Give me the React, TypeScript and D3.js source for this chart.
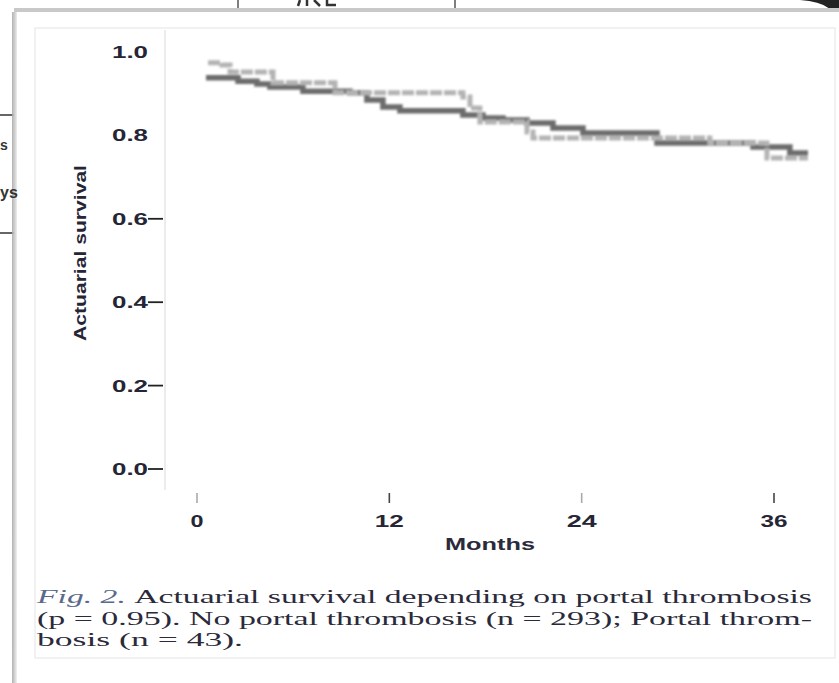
import React from "react";
import * as d3 from "d3";

// Step-curve data (months, actuarial survival)
const noPortalMonths = [0.56, 2.56, 3.74, 4.55, 6.61, 9.54, 10.6, 11.6, 12.66, 16.59, 17.84, 19.09, 20.59, 22.21, 24.08, 28.7, 34.69, 36.99, 38.12];
const noPortalSurv = [0.938, 0.93, 0.923, 0.916, 0.906, 0.902, 0.885, 0.868, 0.859, 0.849, 0.842, 0.837, 0.83, 0.818, 0.806, 0.782, 0.772, 0.758, 0.758];

const portalMonths = [0.69, 1.56, 2.06, 4.74, 8.61, 16.59, 17.03, 17.65, 20.59, 20.96, 32.0, 35.56, 38.12];
const portalSurv = [0.974, 0.969, 0.952, 0.926, 0.902, 0.892, 0.866, 0.832, 0.808, 0.794, 0.782, 0.746, 0.746];

const yTicks = [1.0, 0.8, 0.6, 0.4, 0.2, 0.0];
const yTickLabels = ["1.0", "0.8", "0.6", "0.4", "0.2", "0.0"];
const yTickMarked = [false, false, true, true, true, true];
const xTicks = [0, 12, 24, 36];
const xTickLabels = ["0", "12", "24", "36"];
const xLabelWidths = [13, 29, 30, 27];

const captionLines = [
  "Actuarial survival depending on portal thrombosis",
  "(p = 0.95).  No portal thrombosis (n = 293);  Portal throm-",
  "bosis (n = 43).",
];

export default function App() {
  const x = d3.scaleLinear().domain([0, 36]).range([197, 774]);
  const y = d3.scaleLinear().domain([0, 1]).range([469, 52]);

  const line = d3
    .line<[number, number]>()
    .x((d) => x(d[0]))
    .y((d) => y(d[1]))
    .curve(d3.curveStepAfter);

  const darkPts = noPortalMonths.map((m, i) => [m, noPortalSurv[i]] as [number, number]);
  const lightPts = portalMonths.map((m, i) => [m, portalSurv[i]] as [number, number]);

  const axisFont = "'Liberation Sans', Arial, sans-serif";
  const serif = "'Liberation Serif', 'Times New Roman', serif";

  return (
    <svg
      width={839}
      height={683}
      style={{ position: "absolute", left: 0, top: 0, background: "#fff" }}
    >
      <defs>
        <filter id="soft" x="-5%" y="-20%" width="110%" height="140%">
          <feGaussianBlur stdDeviation="0.8" />
        </filter>
        <linearGradient id="shadowL" x1="0" x2="1" y1="0" y2="0">
          <stop offset="0" stopColor="#a8a8a8" />
          <stop offset="1" stopColor="#f0f0f0" />
        </linearGradient>
        <linearGradient id="shadowT" x1="0" x2="0" y1="0" y2="1">
          <stop offset="0" stopColor="#c8c8c8" />
          <stop offset="1" stopColor="#ffffff" />
        </linearGradient>
      </defs>

      {/* background fragments */}
      <rect x={0} y={0} width={839} height={683} fill="#ffffff" />
      <line x1={238} y1={0} x2={238} y2={8} stroke="#555" strokeWidth={1.5} />
      <line x1={455} y1={0} x2={455} y2={8} stroke="#555" strokeWidth={1.5} />
      <g stroke="#333" strokeWidth={2.5}>
        <line x1={300} y1={0} x2={298} y2={6} />
        <line x1={307} y1={0} x2={307} y2={6} />
        <line x1={314} y1={0} x2={320} y2={6} />
        <line x1={326} y1={5} x2={336} y2={5} />
        <line x1={327} y1={0} x2={327} y2={6} />
      </g>
      <path d="M800,0 Q839,2 839,30 L839,0 Z" fill="#222" />
      <line x1={0} y1={115} x2={14} y2={115} stroke="#666" strokeWidth={2} />
      <line x1={0} y1={233} x2={14} y2={233} stroke="#666" strokeWidth={2} />

      {/* card */}
      <rect x={14} y={8} width={830} height={680} fill="url(#shadowT)" />
      <rect x={12} y={12} width={5} height={680} fill="url(#shadowL)" opacity={0.9} />
      <rect x={17} y={12} width={830} height={680} fill="#ffffff" />
      <text x={0} y={150} fontFamily={axisFont} fontSize={14} fontWeight="bold" fill="#333">s</text>
      <text x={0} y={198} fontFamily={axisFont} fontSize={16} fontWeight="bold" fill="#333">ys</text>

      {/* inner panel */}
      <rect x={35} y={28} width={800} height={630} fill="none" stroke="#e4e4e4" strokeWidth={1} />
      <line x1={165} y1={30} x2={165} y2={490} stroke="#ececec" strokeWidth={2} />

      {/* y axis */}
      {yTicks.map((t, i) => (
        <g key={"y" + i}>
          <text
            x={148}
            y={y(t) + 6}
            textAnchor="end"
            fontFamily={axisFont}
            fontSize={17}
            fontWeight="bold"
            fill="#252535"
            textLength={36}
            lengthAdjust="spacingAndGlyphs"
          >
            {yTickLabels[i]}
          </text>
          {yTickMarked[i] && (
            <line x1={148} y1={y(t)} x2={163} y2={y(t)} stroke="#222" strokeWidth={1.8} />
          )}
        </g>
      ))}
      <text
        transform="translate(86,253) rotate(-90)"
        textAnchor="middle"
        fontFamily={axisFont}
        fontSize={17}
        fontWeight="bold"
        fill="#252535"
        textLength={176}
        lengthAdjust="spacingAndGlyphs"
      >
        Actuarial survival
      </text>

      {/* x axis */}
      {xTicks.map((t, i) => (
        <g key={"x" + i}>
          <line x1={x(t)} y1={493} x2={x(t)} y2={503} stroke={i % 2 ? "#444" : "#aaa"} strokeWidth={1.6} />
          <text
            x={x(t)}
            y={527}
            textAnchor="middle"
            fontFamily={axisFont}
            fontSize={17}
            fontWeight="bold"
            fill="#252535"
            textLength={xLabelWidths[i]}
            lengthAdjust="spacingAndGlyphs"
          >
            {xTickLabels[i]}
          </text>
        </g>
      ))}
      <text
        x={490}
        y={550}
        textAnchor="middle"
        fontFamily={axisFont}
        fontSize={17}
        fontWeight="bold"
        fill="#2a2a3a"
        textLength={90}
        lengthAdjust="spacingAndGlyphs"
      >
        Months
      </text>

      {/* curves */}
      <g filter="url(#soft)">
        <path d={line(darkPts) || ""} fill="none" stroke="#6c6c6c" strokeWidth={5.5} />
        <path
          d={line(lightPts) || ""}
          fill="none"
          stroke="#b3b3b3"
          strokeWidth={5}
          strokeDasharray="12 2"
        />
      </g>

      {/* caption */}
      <text
        x={37}
        y={603}
        fontFamily={serif}
        fontSize={18}
        fill="#2a2a3a"
        textLength={775}
        lengthAdjust="spacingAndGlyphs"
      >
        <tspan fontStyle="italic" fill="#5a6a8a">Fig. 2. </tspan>
        {captionLines[0]}
      </text>
      <text
        x={37}
        y={625}
        fontFamily={serif}
        fontSize={18}
        fill="#2a2a3a"
        textLength={775}
        lengthAdjust="spacingAndGlyphs"
      >
        {captionLines[1]}
      </text>
      <text
        x={37}
        y={646}
        fontFamily={serif}
        fontSize={18}
        fill="#2a2a3a"
        textLength={206}
        lengthAdjust="spacingAndGlyphs"
      >
        {captionLines[2]}
      </text>
    </svg>
  );
}
